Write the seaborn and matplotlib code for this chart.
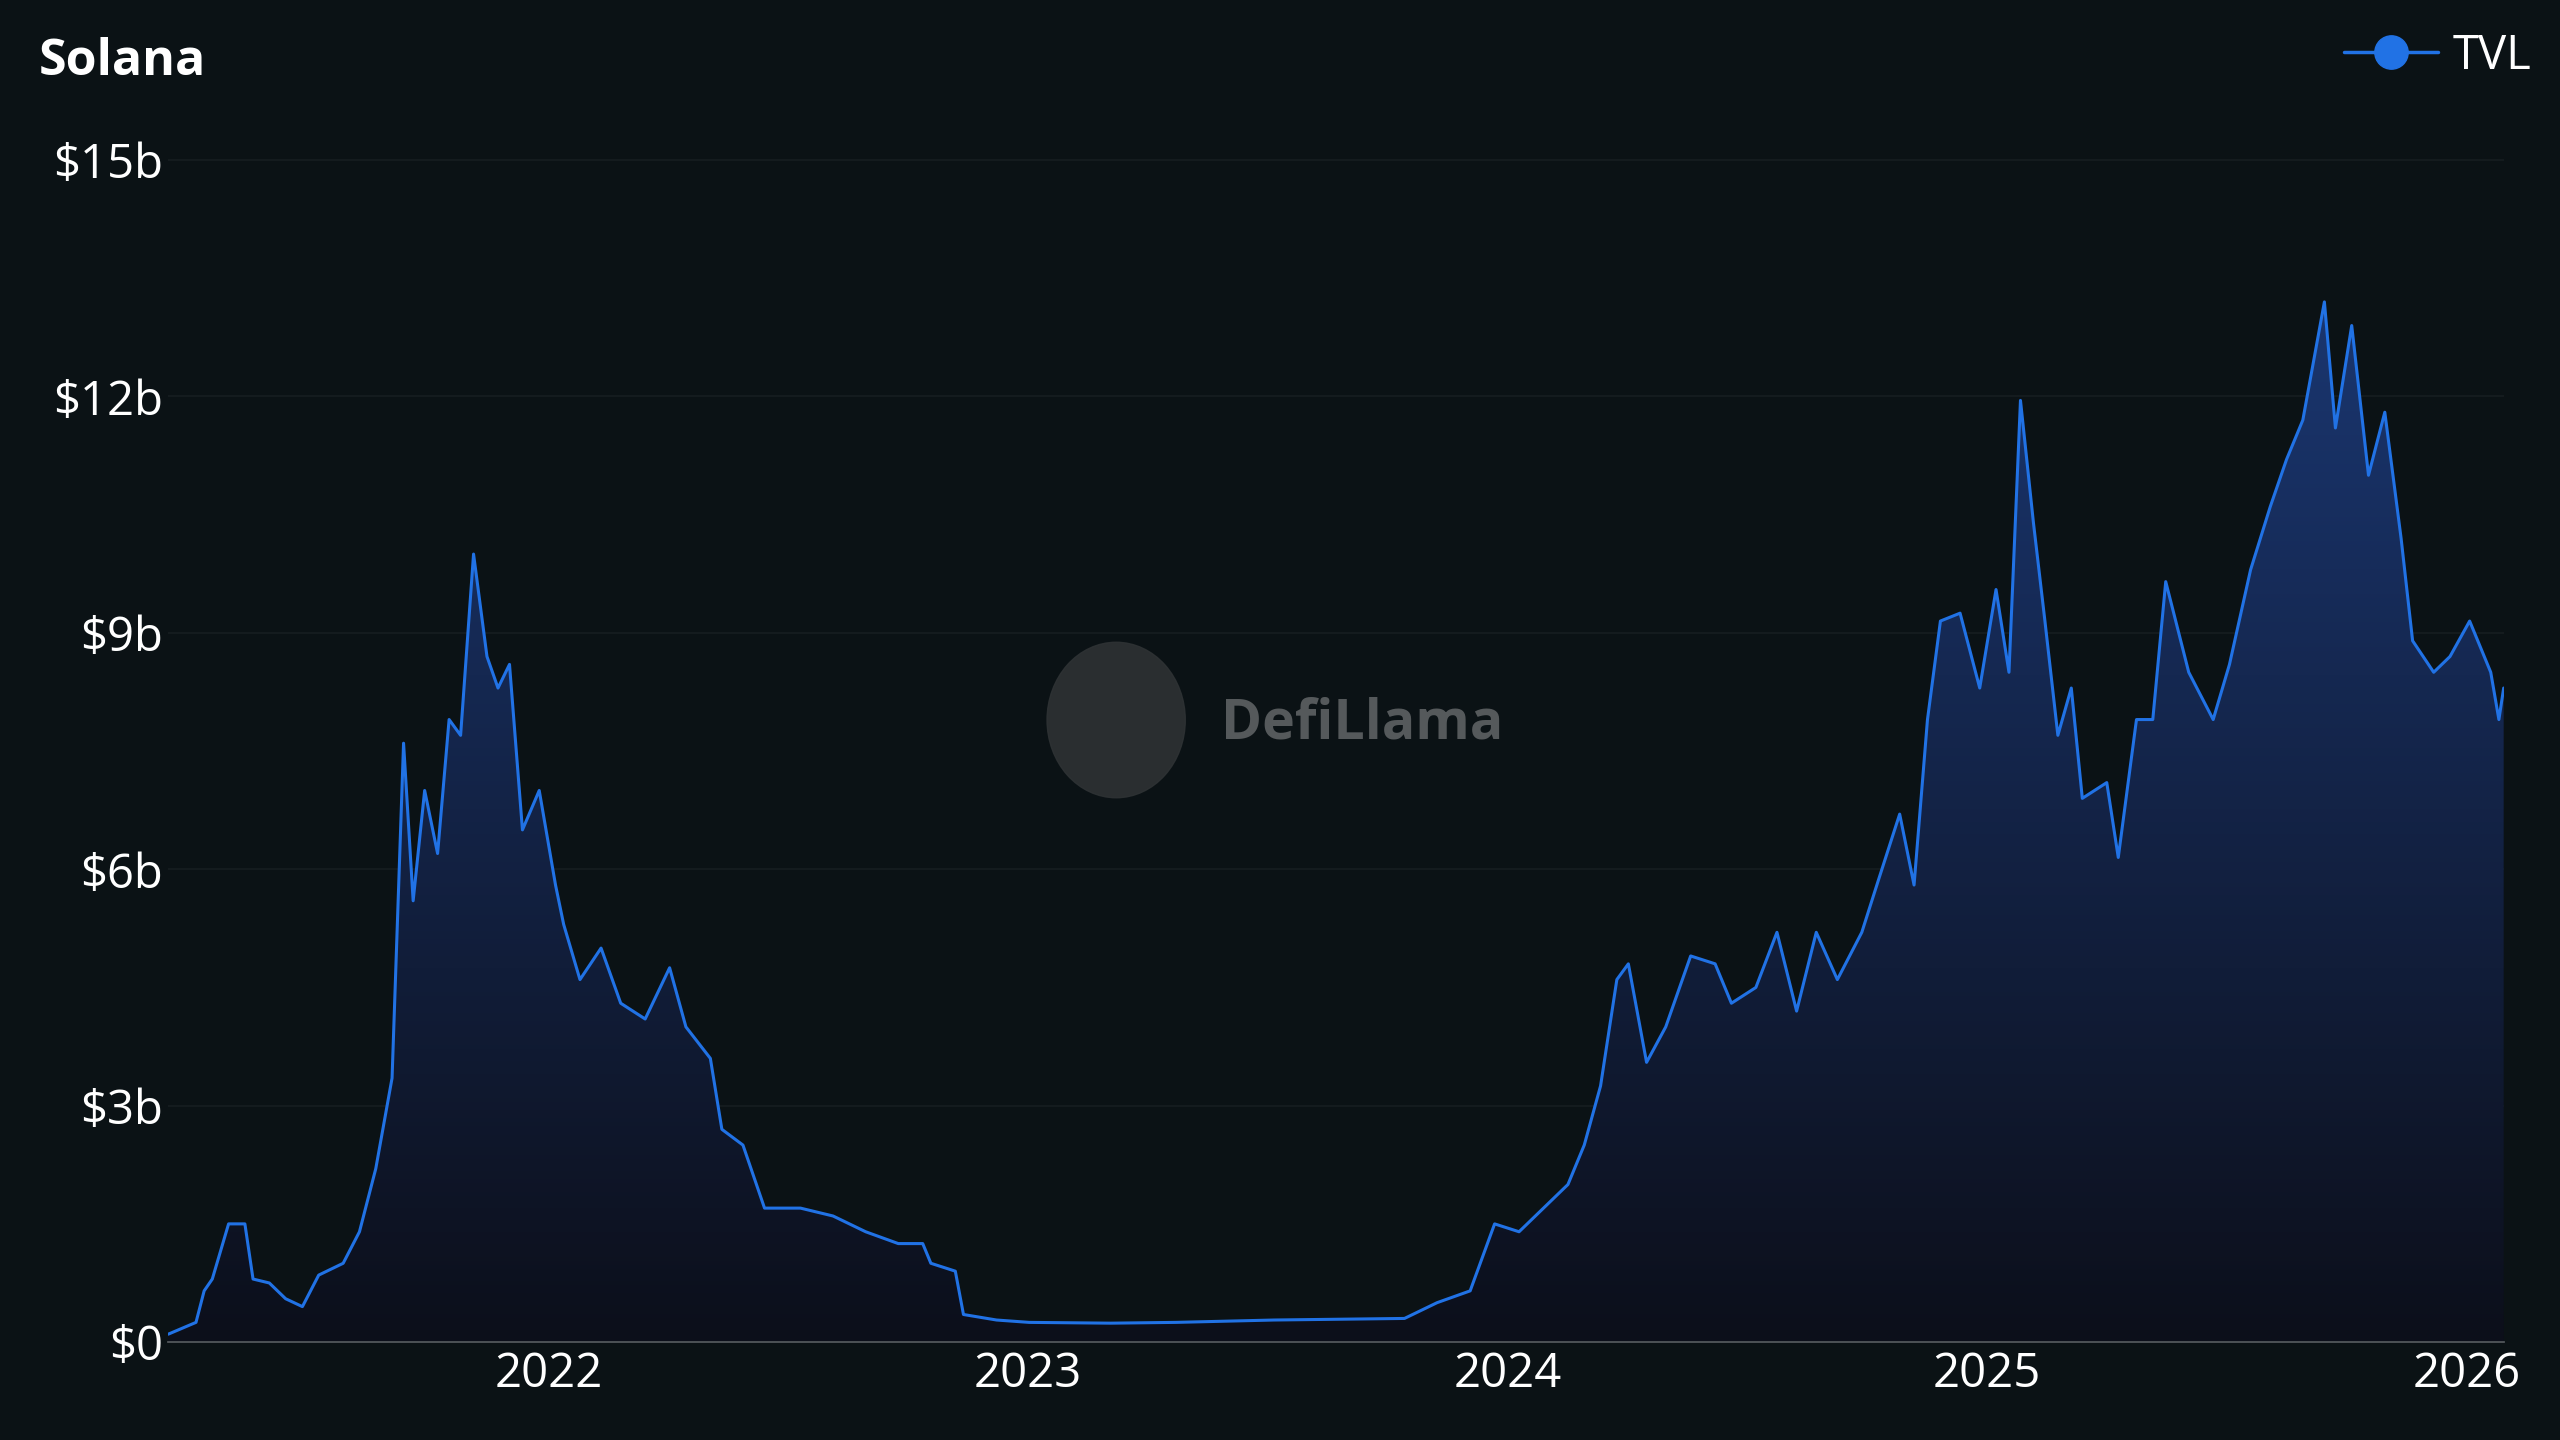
import matplotlib
matplotlib.use("Agg")
import matplotlib.pyplot as plt
import seaborn as sns
import numpy as np
import pandas as pd

# TVL in billions USD, dates as decimal years
years = [2021.206, 2021.264, 2021.281, 2021.298, 2021.332, 2021.366, 2021.383, 2021.417,
         2021.451, 2021.486, 2021.520, 2021.571, 2021.605, 2021.639, 2021.673, 2021.697,
         2021.717, 2021.741, 2021.768, 2021.792, 2021.816, 2021.843, 2021.871, 2021.894,
         2021.918, 2021.945, 2021.980, 2022.014, 2022.031, 2022.065, 2022.109, 2022.150,
         2022.201, 2022.252, 2022.286, 2022.337, 2022.361, 2022.405, 2022.450, 2022.525,
         2022.593, 2022.661, 2022.729, 2022.780, 2022.797, 2022.848, 2022.865, 2022.934,
         2023.002, 2023.172, 2023.308, 2023.513, 2023.785, 2023.853, 2023.922, 2023.973,
         2024.024, 2024.075, 2024.126, 2024.160, 2024.194, 2024.228, 2024.252, 2024.290,
         2024.330, 2024.382, 2024.433, 2024.467, 2024.518, 2024.562, 2024.603, 2024.644,
         2024.688, 2024.739, 2024.773, 2024.818, 2024.848, 2024.876, 2024.903, 2024.944,
         2024.985, 2025.019, 2025.046, 2025.070, 2025.097, 2025.121, 2025.148, 2025.176,
         2025.199, 2025.250, 2025.274, 2025.312, 2025.346, 2025.373, 2025.421, 2025.472,
         2025.506, 2025.550, 2025.591, 2025.625, 2025.659, 2025.704, 2025.727, 2025.761,
         2025.796, 2025.830, 2025.864, 2025.888, 2025.932, 2025.966, 2026.007, 2026.051,
         2026.068, 2026.078]
tvl = [0.1, 0.25, 0.65, 0.8, 1.5, 1.5, 0.8, 0.75,
       0.55, 0.45, 0.85, 1.0, 1.4, 2.2, 3.35, 7.6,
       5.6, 7.0, 6.2, 7.9, 7.7, 10.0, 8.7, 8.3,
       8.6, 6.5, 7.0, 5.8, 5.3, 4.6, 5.0, 4.3,
       4.1, 4.75, 4.0, 3.6, 2.7, 2.5, 1.7, 1.7,
       1.6, 1.4, 1.25, 1.25, 1.0, 0.9, 0.35, 0.28,
       0.25, 0.24, 0.25, 0.28, 0.3, 0.5, 0.65, 1.5,
       1.4, 1.7, 2.0, 2.5, 3.25, 4.6, 4.8, 3.55,
       4.0, 4.9, 4.8, 4.3, 4.5, 5.2, 4.2, 5.2,
       4.6, 5.2, 5.85, 6.7, 5.8, 7.9, 9.15, 9.25,
       8.3, 9.55, 8.5, 11.95, 10.4, 9.15, 7.7, 8.3,
       6.9, 7.1, 6.15, 7.9, 7.9, 9.65, 8.5, 7.9,
       8.6, 9.8, 10.6, 11.2, 11.7, 13.2, 11.6, 12.9,
       11.0, 11.8, 10.2, 8.9, 8.5, 8.7, 9.15, 8.5,
       7.9, 8.3]
y_ticks = [0, 3, 6, 9, 12, 15]
x_ticks = [2022, 2023, 2024, 2025, 2026]

df = pd.DataFrame({"year": years, "tvl": tvl})

bg = "#0b1215"
line_c = "#2172e5"
sns.set_theme(style="dark")
plt.rcParams["font.family"] = ["Open Sans", "DejaVu Sans"]

fig = plt.figure(figsize=(25.6, 14.4), dpi=100, facecolor=bg)
ax = fig.add_axes([0.0657, 0.068, 0.9123, 0.84])
ax.set_facecolor(bg)

# gradient fill under the line
xmin, xmax = years[0], years[-1]
grad = np.linspace(0, 1, 256).reshape(-1, 1)
cmap = matplotlib.colors.LinearSegmentedColormap.from_list("g", ["#0c0f1a", "#1a3670"])
im = ax.imshow(grad, aspect="auto", cmap=cmap, origin="lower",
               extent=[xmin, xmax, 0, 13.2], zorder=1)
poly = ax.fill_between(df["year"], df["tvl"], 0, color="none")
clip = matplotlib.patches.PathPatch(poly.get_paths()[0], transform=ax.transData,
                                    facecolor="none", edgecolor="none")
ax.add_patch(clip)
im.set_clip_path(clip)

sns.lineplot(data=df, x="year", y="tvl", ax=ax, color=line_c, linewidth=2.2, zorder=3)

ax.set_xlim(xmin, xmax)
ax.set_ylim(0, 15.35)
ax.set_yticks(y_ticks)
ax.set_yticklabels([f"${v}b" if v else "$0" for v in y_ticks])
ax.set_xticks(x_ticks)
ax.set_xticklabels([str(v) for v in x_ticks])
ax.tick_params(colors="white", labelsize=34, length=0)
ax.tick_params(axis="x", pad=6)
ax.grid(axis="y", color="#161d21", linewidth=1.2)
ax.grid(axis="x", visible=False)
for s in ["top", "right", "left"]:
    ax.spines[s].set_visible(False)
ax.spines["bottom"].set_color("#555a5e")
ax.set_xlabel("")
ax.set_ylabel("")

fig.text(0.015, 0.957, "Solana", color="white", fontsize=36, fontweight="bold", va="center")
ax.plot([], [], color=line_c, marker="o", markersize=24, linewidth=2.5, label="TVL")
leg = ax.legend(loc="upper right", bbox_to_anchor=(1.03, 1.118), frameon=False,
                fontsize=34, handlelength=2.0, handletextpad=0.3)
for t in leg.get_texts():
    t.set_color("white")

# watermark
fig.text(0.532, 0.497, "DefiLlama", color="#55595b", fontsize=40, fontweight="bold",
         ha="center", va="center")
fig.patches.append(matplotlib.patches.Ellipse((0.436, 0.5), 0.054, 0.108,
                                              transform=fig.transFigure,
                                              color="#2e3234", alpha=0.9))

fig.savefig("out.png", dpi=100, facecolor=bg)
